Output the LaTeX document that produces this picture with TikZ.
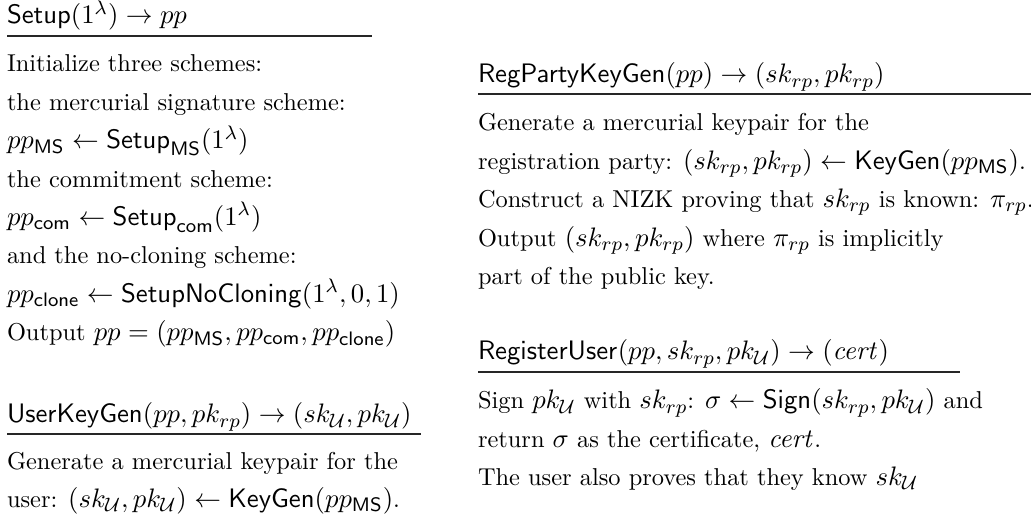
\documentclass[tikz,border=0pt]{standalone}
\usepackage{amsmath,amssymb}
\DeclareMathSizes{10}{10.95}{8}{6}
\tikzset{
  txt/.style={anchor=base west, inner sep=0pt, outer sep=0pt, font=\fontsize{10}{12}\selectfont},
  head/.style={txt},
  hrule/.style={line width=0.55pt, draw=black!85}
}
\newcommand{\Uu}{\mathcal{U}}
\begin{document}
\begin{tikzpicture}[x=0.4098pt, y=-0.4098pt]
\useasboundingbox (0,0) rectangle (1031,520);
% ---------- Setup ----------
\node[head] (sh) at (7,24) {$\mathsf{Setup}(1^{\lambda}) \rightarrow pp$};
\draw[hrule] (7,36) -- (372,36);
\node[txt] (s1) at (7,72) {Initialize three schemes:};
\node[txt] (s2) at (7,110.4) {the mercurial signature scheme:};
\node[txt] (s3) at (7,148.8) {$pp_{\mathsf{MS}} \leftarrow \mathsf{Setup}_{\mathsf{MS}}(1^{\lambda})$};
\node[txt] (s4) at (7,187.2) {the commitment scheme:};
\node[txt] (s5) at (7,225.6) {$pp_{\mathsf{com}} \leftarrow \mathsf{Setup}_{\mathsf{com}}(1^{\lambda})$};
\node[txt] (s6) at (7,264) {and the no-cloning scheme:};
\node[txt] (s7) at (7,302.4) {$pp_{\mathsf{clone}} \leftarrow \mathsf{SetupNoCloning}(1^{\lambda},0,1)$};
\node[txt] (s8) at (7,340.8) {Output $pp = (pp_{\mathsf{MS}}, pp_{\mathsf{com}}, pp_{\mathsf{clone}})$};
% ---------- UserKeyGen ----------
\node[head] (uh) at (7,423) {$\mathsf{UserKeyGen}(pp, pk_{rp}) \rightarrow (sk_{\Uu}, pk_{\Uu})$};
\draw[hrule] (7,434) -- (421,434);
\node[txt] (u1) at (7,470) {Generate a mercurial keypair for the};
\node[txt] (u2) at (7,507) {user: $(sk_{\Uu}, pk_{\Uu}) \leftarrow \mathsf{KeyGen}(pp_{\mathsf{MS}})$.};
% ---------- RegPartyKeyGen ----------
\node[head] (rh) at (478,83) {$\mathsf{RegPartyKeyGen}(pp) \rightarrow (sk_{rp}, pk_{rp})$};
\draw[hrule] (478,94) -- (1031,94);
\node[txt] (r1) at (478,131) {Generate a mercurial keypair for the};
\node[txt] (r2) at (478,169.4) {registration party: $(sk_{rp}, pk_{rp}) \leftarrow \mathsf{KeyGen}(pp_{\mathsf{MS}})$.};
\node[txt] (r3) at (478,207.8) {Construct a NIZK proving that $sk_{rp}$ is known: $\pi_{rp}$.};
\node[txt] (r4) at (478,246.2) {Output $(sk_{rp}, pk_{rp})$ where $\pi_{rp}$ is implicitly};
\node[txt] (r5) at (478,284.6) {part of the public key.};
% ---------- RegisterUser ----------
\node[head] (gh) at (478,360) {$\mathsf{RegisterUser}(pp, sk_{rp}, pk_{\Uu}) \rightarrow (\mathit{cert})$};
\draw[hrule] (478,372) -- (960,372);
\node[txt] (g1) at (478,409) {Sign $pk_{\Uu}$ with $sk_{rp}$: $\sigma \leftarrow \mathsf{Sign}(sk_{rp}, pk_{\Uu})$ and};
\node[txt] (g2) at (478,447.4) {return $\sigma$ as the certificate, $\mathit{cert}$.};
\node[txt] (g3) at (478,485.8) {The user also proves that they know $sk_{\Uu}$};
\end{tikzpicture}
\end{document}
